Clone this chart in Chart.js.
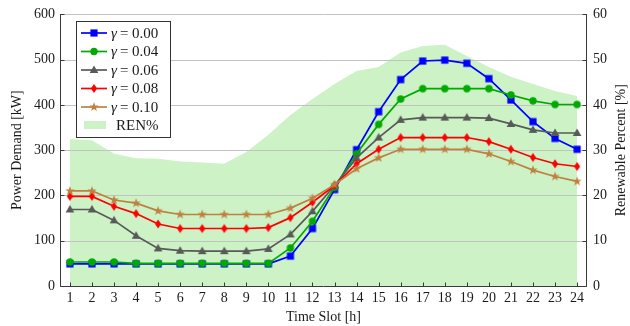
<!DOCTYPE html>
<html>
<head>
<meta charset="utf-8">
<script src="https://cdn.jsdelivr.net/npm/chart.js@4.4.1/dist/chart.umd.min.js"></script>
<style>
  html, body { margin: 0; padding: 0; background: #fff; }
  canvas { display: block; }
</style>
</head>
<body>
<canvas id="chart" width="630" height="326"></canvas>
<script>
// Time slots (hours)
const slots = [1, 2, 3, 4, 5, 6, 7, 8, 9, 10, 11, 12, 13, 14, 15, 16, 17, 18, 19, 20, 21, 22, 23, 24];

// Power demand [kW] for each gamma setting
const gamma000 = [49, 49, 49, 49, 49, 49, 49, 49, 49, 49, 66, 127, 213, 301, 385, 456, 497, 499, 492, 458, 411, 363, 326, 302];
const gamma004 = [53, 53, 53, 50, 50, 50, 50, 50, 50, 50, 84, 143, 218, 292, 357, 413, 436, 436, 436, 436, 422, 409, 401, 401];
const gamma006 = [169, 169, 145, 111, 83, 78, 77, 77, 77, 82, 114, 165, 222, 283, 328, 367, 372, 372, 372, 371, 358, 345, 338, 338];
const gamma008 = [198, 198, 176, 160, 137, 127, 127, 127, 127, 129, 151, 185, 222, 270, 302, 328, 328, 328, 328, 319, 302, 284, 270, 264];
const gamma010 = [210, 210, 190, 183, 166, 158, 158, 158, 158, 158, 172, 194, 224, 259, 283, 302, 302, 302, 302, 292, 275, 256, 242, 231];

// Renewable share [%]
const renPercent = [32.5, 32.2, 29.2, 28.2, 28.1, 27.5, 27.3, 27.0, 29.6, 33.4, 37.8, 41.3, 44.6, 47.5, 48.4, 51.6, 53.0, 53.3, 50.8, 48.4, 46.2, 44.6, 43.1, 42.0];

// Axis ticks
const powerTicks = [0, 100, 200, 300, 400, 500, 600];
const renTicks = [0, 10, 20, 30, 40, 50, 60];

const gammaLabels = ['0.00', '0.04', '0.06', '0.08', '0.10'];

const FONT = '"Liberation Serif", "Times New Roman", serif';
const TEXT = '#1a1a1a';
const AXIS = '#3a3a3a';
const GRID = '#c2c2c2';
const REN_FILL = '#ccf2c6';

const series = [
  { values: gamma000, color: '#0000ff', marker: 'square' },
  { values: gamma004, color: '#00aa00', marker: 'circle' },
  { values: gamma006, color: '#595959', marker: 'triangle' },
  { values: gamma008, color: '#ff0000', marker: 'diamond' },
  { values: gamma010, color: '#bf8040', marker: 'star' }
];

function drawMarker(g, kind, color, x, y) {
  g.save();
  g.fillStyle = color;
  g.beginPath();
  switch (kind) {
    case 'square':
      g.rect(x - 3.6, y - 3.6, 7.2, 7.2);
      break;
    case 'circle':
      g.arc(x, y, 3.7, 0, Math.PI * 2);
      break;
    case 'triangle':
      g.moveTo(x, y - 4.4);
      g.lineTo(x + 4.3, y + 3.0);
      g.lineTo(x - 4.3, y + 3.0);
      g.closePath();
      break;
    case 'diamond':
      g.moveTo(x, y - 4.6);
      g.lineTo(x + 3.1, y);
      g.lineTo(x, y + 4.6);
      g.lineTo(x - 3.1, y);
      g.closePath();
      break;
    case 'star':
      for (let i = 0; i < 10; i++) {
        const r = i % 2 ? 2.0 : 4.9;
        const a = -Math.PI / 2 + i * Math.PI / 5;
        const px = x + r * Math.cos(a), py = y + r * Math.sin(a);
        if (i === 0) g.moveTo(px, py); else g.lineTo(px, py);
      }
      g.closePath();
      break;
  }
  g.fill();
  g.restore();
}

function markerCanvas(kind, color) {
  const c = document.createElement('canvas');
  c.width = 14; c.height = 14;
  drawMarker(c.getContext('2d'), kind, color, 7, 7);
  return c;
}

const datasets = series.map((s, i) => ({
  data: slots.map((x, k) => ({ x, y: s.values[k] })),
  borderColor: s.color,
  backgroundColor: s.color,
  borderWidth: 1.7,
  pointStyle: markerCanvas(s.marker, s.color),
  pointRadius: 4,
  tension: 0,
  yAxisID: 'y',
  order: 5 - i
}));

datasets.push({
  data: slots.map((x, k) => ({ x, y: renPercent[k] })),
  borderWidth: 0,
  borderColor: 'rgba(0,0,0,0)',
  backgroundColor: REN_FILL,
  pointRadius: 0,
  fill: 'origin',
  yAxisID: 'y1',
  order: 10
});

const decor = {
  id: 'decor',
  afterDatasetDraw(chart, args) {
    if (args.index !== 5) return;
    // horizontal grid drawn over the renewable area, below the lines
    const { ctx, chartArea: a, scales } = chart;
    ctx.save();
    ctx.strokeStyle = GRID;
    ctx.lineWidth = 1;
    for (const v of powerTicks) {
      const py = Math.round(scales.y.getPixelForValue(v)) + 0.5;
      if (v === 0) continue;
      ctx.beginPath();
      ctx.moveTo(a.left, py);
      ctx.lineTo(a.right, py);
      ctx.stroke();
    }
    ctx.restore();
  },
  afterDraw(chart) {
    const { ctx, chartArea: a, scales } = chart;
    const L = Math.round(a.left) + 0.5, R = Math.round(a.right) - 0.5;
    const T = Math.round(a.top), B = Math.round(a.bottom) + 0.5;
    ctx.save();
    // axis lines
    ctx.strokeStyle = AXIS;
    ctx.lineWidth = 1;
    ctx.beginPath();
    ctx.moveTo(L, T); ctx.lineTo(L, B); ctx.lineTo(R, B); ctx.lineTo(R, T);
    ctx.stroke();
    // inward tick marks
    ctx.beginPath();
    for (const v of powerTicks) {
      const py = Math.round(scales.y.getPixelForValue(v)) + 0.5;
      ctx.moveTo(L, py); ctx.lineTo(L + 4, py);
    }
    for (const v of renTicks) {
      const py = Math.round(scales.y1.getPixelForValue(v)) + 0.5;
      ctx.moveTo(R, py); ctx.lineTo(R - 4, py);
    }
    for (const s of slots) {
      const px = Math.round(scales.x.getPixelForValue(s)) + 0.5;
      ctx.moveTo(px, B); ctx.lineTo(px, B - 4);
    }
    ctx.stroke();

    // axis titles
    ctx.fillStyle = TEXT;
    ctx.font = '14px ' + FONT;
    ctx.textAlign = 'center';
    ctx.textBaseline = 'middle';
    const midY = (a.top + a.bottom) / 2;
    ctx.save();
    ctx.translate(17, midY);
    ctx.rotate(-Math.PI / 2);
    ctx.fillText('Power Demand [kW]', 0, 0);
    ctx.restore();
    ctx.save();
    ctx.translate(621, midY);
    ctx.rotate(-Math.PI / 2);
    ctx.fillText('Renewable Percent [%]', 0, 0);
    ctx.restore();
    ctx.fillText('Time Slot [h]', (a.left + a.right) / 2, 317);

    // legend
    const bx = 76.5, by = 21.5, bw = 94, bh = 116;
    ctx.fillStyle = '#ffffff';
    ctx.fillRect(bx, by, bw, bh);
    ctx.strokeStyle = '#333333';
    ctx.strokeRect(bx, by, bw, bh);
    const rowY = [33, 51.5, 70, 88.5, 107, 125];
    ctx.textAlign = 'left';
    series.forEach((s, i) => {
      const y = rowY[i];
      ctx.strokeStyle = s.color;
      ctx.lineWidth = 1.7;
      ctx.beginPath();
      ctx.moveTo(81, y); ctx.lineTo(107, y);
      ctx.stroke();
      drawMarker(ctx, s.marker, s.color, 94, y);
      ctx.fillStyle = TEXT;
      let tx = 111;
      ctx.font = 'italic 15px ' + FONT;
      ctx.fillText('\u03B3', tx, y + 1);
      tx += ctx.measureText('\u03B3').width + 3;
      ctx.font = '15px ' + FONT;
      ctx.fillText('= ' + gammaLabels[i], tx, y + 1);
    });
    ctx.fillStyle = REN_FILL;
    ctx.fillRect(84, rowY[5] - 4, 22, 8);
    ctx.fillStyle = TEXT;
    ctx.font = '15px ' + FONT;
    ctx.fillText('REN%', 116, rowY[5] + 1);
    ctx.restore();
  }
};

new Chart(document.getElementById('chart'), {
  type: 'line',
  data: { datasets },
  options: {
    responsive: false,
    animation: false,
    layout: { padding: { top: 13, left: 0, right: 0, bottom: 0 } },
    plugins: { legend: { display: false }, tooltip: { enabled: false } },
    scales: {
      x: {
        type: 'linear',
        min: 0.55,
        max: 24.45,
        afterBuildTicks: s => { s.ticks = slots.map(v => ({ value: v })); },
        afterFit: s => { s.height = 40; },
        grid: { display: false, drawTicks: false },
        border: { display: false },
        ticks: { color: TEXT, font: { family: FONT, size: 14 }, padding: 4, maxRotation: 0, autoSkip: false }
      },
      y: {
        position: 'left',
        min: 0,
        max: 600,
        afterBuildTicks: s => { s.ticks = powerTicks.map(v => ({ value: v })); },
        afterFit: s => { s.width = 60; },
        grid: { display: false, drawTicks: false },
        border: { display: false },
        ticks: { color: TEXT, font: { family: FONT, size: 14 }, padding: 5 }
      },
      y1: {
        position: 'right',
        min: 0,
        max: 60,
        afterBuildTicks: s => { s.ticks = renTicks.map(v => ({ value: v })); },
        afterFit: s => { s.width = 43; },
        grid: { display: false, drawTicks: false },
        border: { display: false },
        ticks: { color: TEXT, font: { family: FONT, size: 14 }, padding: 6 }
      }
    }
  },
  plugins: [decor]
});
</script>
</body>
</html>
